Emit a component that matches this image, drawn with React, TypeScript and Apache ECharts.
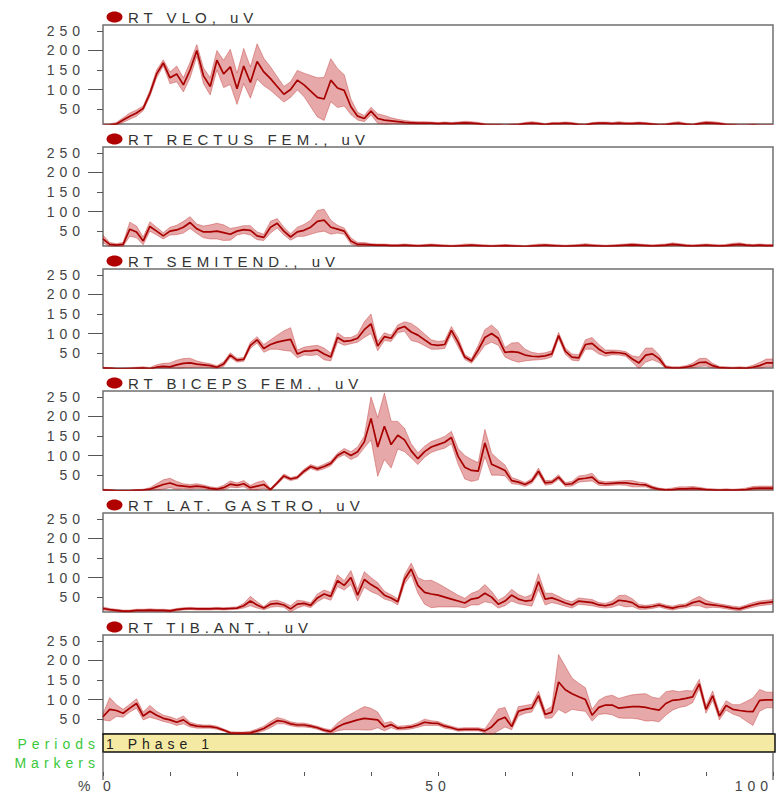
import React, { useEffect, useRef } from "react";
import * as echarts from "echarts";

// x positions: percent of cycle
const PCT: string[] = Array.from({ length: 101 }, (_, i) => String(i));

const TITLES = [
  "RT VLO, uV",
  "RT RECTUS FEM., uV",
  "RT SEMITEND., uV",
  "RT BICEPS FEM., uV",
  "RT LAT. GASTRO, uV",
  "RT TIB.ANT., uV",
];

const Y_TICKS = [50, 100, 150, 200, 250];
const Y_MAJOR = [100, 200];
const X_LABELS = [0, 50, 100];

const vloMean = [
  8, 9, 12, 22, 32, 40, 52, 90, 140, 168,
  130, 140, 112, 150, 200, 135, 108, 175, 140, 158,
  102, 160, 118, 172, 145, 128, 108, 88, 100, 124,
  112, 96, 80, 76, 124, 104, 98, 56, 32, 26,
  45, 26, 22, 20, 18, 16, 15, 14, 14, 14,
  13, 14, 13, 14, 15, 14, 13, 10, 9, 9,
  8, 9, 10, 13, 14, 13, 10, 13, 13, 14,
  13, 10, 9, 13, 14, 14, 13, 14, 13, 13,
  14, 13, 11, 9, 10, 13, 14, 11, 9, 13,
  15, 14, 13, 10, 9, 8, 8, 9, 8, 8,
  8,
];
const vloSpread = [
  3, 3, 4, 6, 8, 8, 6, 8, 10, 8,
  15, 20, 18, 20, 15, 20, 22, 25, 35, 45,
  40, 45, 40, 45, 35, 30, 25, 20, 20, 25,
  30, 40, 50, 55, 55, 50, 40, 20, 10, 8,
  10, 12, 12, 8, 6, 5, 4, 4, 4, 3,
  3, 3, 3, 3, 4, 4, 3, 3, 3, 3,
  3, 3, 3, 3, 4, 3, 3, 3, 3, 3,
  3, 3, 3, 3, 3, 3, 3, 4, 3, 3,
  3, 3, 3, 3, 3, 3, 4, 3, 3, 3,
  4, 4, 3, 3, 3, 3, 3, 3, 3, 3,
  3,
];

const rectusMean = [
  30, 16, 14, 16, 55, 48, 25, 62, 50, 38,
  50, 53, 60, 72, 56, 48, 48, 50, 46, 42,
  50, 54, 52, 38, 34, 60, 70, 50, 35, 48,
  52, 60, 75, 78, 60, 55, 50, 25, 16, 16,
  15, 14, 14, 13, 13, 14, 13, 12, 13, 14,
  13, 12, 11, 12, 13, 14, 13, 12, 11, 12,
  13, 12, 11, 10, 12, 13, 14, 13, 12, 11,
  12, 13, 14, 13, 12, 11, 12, 13, 14, 15,
  14, 13, 12, 13, 14, 16, 15, 13, 12, 13,
  14, 13, 12, 13, 15, 16, 14, 13, 14, 13,
  13,
];
const rectusSpread = [
  10, 5, 4, 5, 18, 15, 10, 12, 10, 8,
  10, 12, 15, 15, 12, 15, 18, 20, 20, 15,
  10, 10, 12, 10, 8, 15, 12, 10, 8, 12,
  15, 18, 28, 28, 18, 10, 8, 8, 5, 5,
  3, 3, 3, 3, 3, 3, 3, 3, 3, 3,
  3, 3, 3, 3, 4, 3, 3, 3, 3, 3,
  3, 3, 3, 3, 3, 4, 3, 3, 3, 3,
  3, 3, 4, 3, 3, 3, 3, 3, 3, 4,
  3, 3, 3, 3, 3, 4, 3, 3, 3, 3,
  3, 3, 3, 3, 4, 4, 3, 3, 3, 3,
  3,
];

const semitendMean = [
  12, 11, 10, 10, 10, 11, 12, 10, 14, 16,
  15, 20, 24, 25, 22, 20, 18, 14, 22, 45,
  32, 34, 70, 84, 62, 72, 78, 82, 85, 48,
  55, 56, 58, 48, 40, 90, 80, 82, 88, 110,
  125, 68, 92, 88, 112, 118, 104, 96, 84, 72,
  70, 72, 108, 78, 40, 30, 58, 90, 100, 88,
  52, 54, 52, 45, 42, 41, 43, 48, 95, 55,
  40, 38, 72, 75, 60, 50, 52, 51, 48, 35,
  25, 45, 48, 36, 14, 12, 12, 14, 18, 26,
  27, 18, 13, 12, 11, 12, 11, 14, 18, 25,
  25,
];
const semitendSpread = [
  2, 2, 2, 2, 3, 3, 3, 3, 6, 8,
  10, 12, 12, 12, 8, 6, 5, 4, 6, 6,
  5, 5, 8, 8, 10, 12, 18, 25, 30, 10,
  10, 12, 12, 15, 10, 12, 10, 8, 10, 20,
  25, 12, 10, 8, 10, 12, 22, 18, 15, 12,
  10, 10, 10, 12, 6, 6, 12, 20, 22, 18,
  12, 22, 25, 15, 10, 8, 8, 8, 8, 8,
  8, 8, 12, 15, 12, 8, 6, 6, 6, 8,
  15, 18, 15, 10, 4, 3, 3, 4, 6, 10,
  10, 6, 3, 3, 3, 3, 3, 5, 8, 10,
  10,
];

const bicepsMean = [
  12, 11, 10, 10, 10, 11, 12, 14, 20, 26,
  30, 24, 22, 20, 22, 20, 16, 14, 18, 27,
  24, 28, 18, 22, 26, 13, 30, 48, 40, 44,
  60, 72, 66, 72, 80, 100, 110, 100, 110, 135,
  195, 122, 175, 128, 152, 140, 112, 92, 110, 122,
  128, 134, 146, 98, 70, 62, 60, 132, 78, 70,
  62, 36, 32, 26, 35, 60, 30, 32, 45, 26,
  28, 40, 42, 45, 30, 28, 29, 30, 30, 28,
  26, 25, 18, 14, 12, 13, 15, 15, 16, 15,
  13, 12, 11, 12, 11, 12, 13, 16, 17, 17,
  17,
];
const bicepsSpread = [
  2, 2, 2, 2, 2, 2, 2, 4, 8, 12,
  12, 10, 6, 6, 6, 5, 4, 4, 6, 8,
  6, 8, 6, 10, 10, 3, 4, 5, 4, 4,
  5, 5, 5, 6, 6, 6, 8, 10, 12, 15,
  55, 75, 85, 60, 35, 30, 18, 15, 14, 14,
  14, 15, 16, 20, 30, 28, 22, 35, 28, 20,
  14, 8, 6, 5, 6, 8, 6, 5, 6, 5,
  6, 8, 8, 10, 6, 5, 5, 5, 6, 8,
  6, 5, 4, 3, 3, 4, 5, 5, 5, 4,
  3, 3, 3, 3, 3, 3, 4, 5, 5, 5,
  5,
];

const gastroMean = [
  21, 18, 16, 14, 14, 16, 16, 17, 16, 16,
  15, 18, 20, 21, 20, 20, 20, 21, 20, 21,
  22, 28, 40, 30, 22, 32, 34, 30, 20, 32,
  34, 29, 48, 58, 52, 92, 80, 100, 55, 95,
  82, 72, 55, 48, 38, 95, 122, 80, 62, 58,
  55, 50, 45, 40, 35, 45, 48, 60, 50, 32,
  40, 55, 45, 40, 42, 90, 45, 48, 42, 35,
  30, 40, 38, 36, 30, 28, 32, 42, 40, 36,
  25, 24, 26, 30, 25, 22, 26, 28, 36, 40,
  32, 30, 28, 25, 22, 20, 25, 30, 34, 36,
  38,
];
const gastroSpread = [
  4, 3, 3, 3, 3, 3, 3, 3, 3, 3,
  3, 3, 3, 3, 3, 3, 3, 3, 3, 3,
  3, 6, 12, 8, 4, 8, 8, 6, 8, 10,
  6, 6, 10, 10, 10, 15, 12, 18, 15, 20,
  18, 15, 10, 8, 8, 12, 15, 20, 30, 35,
  30, 25, 20, 15, 12, 15, 18, 22, 15, 10,
  12, 15, 12, 10, 15, 20, 15, 12, 10, 8,
  8, 8, 8, 8, 6, 6, 8, 12, 15, 10,
  6, 5, 5, 5, 5, 5, 5, 5, 8, 12,
  10, 6, 5, 5, 5, 5, 5, 6, 6, 6,
  6,
];

const tibMean = [
  56, 75, 72, 65, 78, 90, 58, 70, 60, 52,
  48, 42, 48, 36, 32, 31, 31, 28, 22, 15,
  14, 14, 15, 20, 26, 36, 46, 44, 38, 35,
  35, 32, 28, 22, 18, 30, 38, 43, 48, 52,
  50, 48, 30, 36, 27, 28, 30, 35, 42, 40,
  39, 32, 28, 23, 24, 24, 24, 20, 30, 48,
  55, 31, 70, 75, 78, 110, 62, 68, 145, 125,
  115, 107, 100, 60, 80, 86, 86, 78, 80, 82,
  82, 80, 76, 73, 90, 98, 100, 103, 107, 140,
  75, 110, 58, 85, 75, 72, 70, 69, 98, 99,
  99,
];
const tibSpread = [
  8, 30, 15, 10, 10, 12, 10, 15, 10, 8,
  8, 8, 10, 6, 5, 4, 4, 4, 3, 3,
  3, 3, 4, 5, 6, 8, 8, 6, 5, 5,
  5, 4, 4, 4, 5, 10, 15, 20, 25, 30,
  28, 20, 10, 8, 5, 5, 5, 6, 8, 6,
  5, 5, 4, 4, 4, 4, 4, 5, 20, 28,
  25, 8, 12, 10, 10, 12, 10, 15, 70, 60,
  40, 35, 30, 15, 18, 22, 25, 25, 28, 30,
  32, 35, 30, 30, 30, 25, 20, 20, 15, 12,
  10, 12, 10, 12, 12, 15, 25, 35, 28, 20,
  20,
];

const MEANS = [vloMean, rectusMean, semitendMean, bicepsMean, gastroMean, tibMean];
const SPREADS = [vloSpread, rectusSpread, semitendSpread, bicepsSpread, gastroSpread, tibSpread];

const PERIOD_LABEL = "1 Phase 1";

// layout
const LEFT = 103;
const RIGHT = 4;
const TOPS = [25, 147, 269, 391, 513, 635];
const PANEL_H = 99;
const Y_MIN = 12;
const Y_MAX = 265;
const FONT = "Liberation Sans";

const MEAN_COLOR = "#a80000";
const BAND_FILL = "rgba(185,15,15,0.36)";
const BAND_EDGE = "rgba(190,40,40,0.38)";

export default function App() {
  const ref = useRef<HTMLDivElement>(null);

  useEffect(() => {
    if (!ref.current) return;
    const chart = echarts.init(ref.current, null, { renderer: "svg" });

    const grids: any[] = TOPS.map((t) => ({
      left: LEFT,
      right: RIGHT,
      top: t,
      height: PANEL_H,
      show: true,
      borderColor: "#6f6f6f",
      borderWidth: 1.5,
      backgroundColor: "transparent",
    }));
    grids.push({ left: LEFT, right: RIGHT, top: 752, height: 20, show: false });

    const xAxes: any[] = TOPS.map((_, i) => ({
      type: "category",
      gridIndex: i,
      data: PCT,
      boundaryGap: false,
      axisLine: { show: false },
      axisTick: { show: false },
      axisLabel: { show: false },
      splitLine: { show: false },
    }));
    xAxes.push({
      type: "value",
      gridIndex: 6,
      min: 0,
      max: 100,
      interval: 10,
      axisLine: { show: false },
      splitLine: { show: false },
      axisTick: { show: true, length: 4, lineStyle: { color: "#555", width: 1 } },
      axisLabel: {
        color: "#444",
        fontSize: 14,
        fontFamily: FONT,
        margin: 7,
        alignMinLabel: "left",
        alignMaxLabel: "right",
        formatter: (v: number) => (X_LABELS.indexOf(v) >= 0 ? String(v) : ""),
      },
    });

    const yAxes: any[] = [];
    TOPS.forEach((_, i) => {
      yAxes.push({
        type: "value",
        gridIndex: i,
        position: "left",
        min: Y_MIN,
        max: Y_MAX,
        axisLine: { show: false },
        splitLine: { show: false },
        axisTick: {
          show: true,
          length: 6,
          customValues: Y_TICKS,
          lineStyle: { color: "#555", width: 1 },
        },
        axisLabel: {
          customValues: Y_TICKS,
          color: "#444",
          fontSize: 14,
          fontFamily: FONT,
          margin: 18,
        },
      });
      yAxes.push({
        type: "value",
        gridIndex: i,
        position: "left",
        min: Y_MIN,
        max: Y_MAX,
        axisLine: { show: false },
        splitLine: { show: false },
        axisLabel: { show: false },
        axisTick: {
          show: true,
          length: 15,
          customValues: Y_MAJOR,
          lineStyle: { color: "#555", width: 1 },
        },
      });
    });
    yAxes.push({
      type: "value",
      gridIndex: 6,
      min: 0,
      max: 1,
      axisLine: { show: false },
      axisTick: { show: false },
      axisLabel: { show: false },
      splitLine: { show: false },
    });

    const series: any[] = [];
    MEANS.forEach((mean, i) => {
      const spread = SPREADS[i];
      const lower = mean.map((m, k) => Math.max(0, m - spread[k]));
      const width = mean.map((m, k) => m + spread[k] - lower[k]);
      const common = {
        type: "line",
        xAxisIndex: i,
        yAxisIndex: 2 * i,
        symbol: "none",
        silent: true,
        clip: true,
      };
      series.push({
        ...common,
        stack: "band" + i,
        data: lower,
        lineStyle: { color: BAND_EDGE, width: 1 },
      });
      series.push({
        ...common,
        stack: "band" + i,
        data: width,
        lineStyle: { color: BAND_EDGE, width: 1 },
        areaStyle: { color: BAND_FILL, opacity: 1 },
      });
      series.push({
        ...common,
        data: mean,
        lineStyle: { color: MEAN_COLOR, width: 1.7 },
        z: 5,
      });
    });

    const graphics: any[] = [];
    TOPS.forEach((t, i) => {
      graphics.push({
        type: "ellipse",
        shape: { cx: 114.5, cy: t - 8, rx: 8, ry: 5.5 },
        style: { fill: "#b00000" },
      });
      graphics.push({
        type: "text",
        x: 128,
        y: t - 8,
        style: {
          text: TITLES[i],
          fontSize: 15,
          fontFamily: FONT,
          fill: "#333",
          verticalAlign: "middle",
          align: "left",
        },
      });
    });
    graphics.push({
      type: "rect",
      shape: { x: 103, y: 734, width: 672, height: 18 },
      style: { fill: "#f5eaa3", stroke: "#111", lineWidth: 1.5 },
    });
    graphics.push({
      type: "text",
      x: 106,
      y: 744,
      style: {
        text: PERIOD_LABEL,
        fontSize: 14,
        fontFamily: FONT,
        fill: "#222",
        verticalAlign: "middle",
        align: "left",
      },
    });
    graphics.push({
      type: "text",
      x: 100,
      y: 744,
      style: {
        text: "Periods",
        fontSize: 14,
        fontFamily: FONT,
        fill: "#3ac83a",
        verticalAlign: "middle",
        align: "right",
      },
    });
    graphics.push({
      type: "text",
      x: 100,
      y: 763,
      style: {
        text: "Markers",
        fontSize: 14,
        fontFamily: FONT,
        fill: "#3ac83a",
        verticalAlign: "middle",
        align: "right",
      },
    });
    graphics.push({
      type: "line",
      shape: { x1: 103, y1: 752, x2: 103, y2: 780 },
      style: { stroke: "#555", lineWidth: 1.2 },
    });
    graphics.push({
      type: "line",
      shape: { x1: 773, y1: 752, x2: 773, y2: 780 },
      style: { stroke: "#555", lineWidth: 1.2 },
    });
    graphics.push({
      type: "text",
      x: 78,
      y: 786,
      style: {
        text: "%",
        fontSize: 14,
        fontFamily: FONT,
        fill: "#444",
        verticalAlign: "middle",
        align: "left",
      },
    });

    chart.setOption({
      animation: false,
      backgroundColor: "#ffffff",
      grid: grids,
      xAxis: xAxes,
      yAxis: yAxes,
      series,
      graphic: graphics,
    });

    return () => chart.dispose();
  }, []);

  return (
    <div
      ref={ref}
      style={{
        position: "absolute",
        left: 0,
        top: 0,
        width: 777,
        height: 795,
        letterSpacing: "5px",
      }}
    />
  );
}
